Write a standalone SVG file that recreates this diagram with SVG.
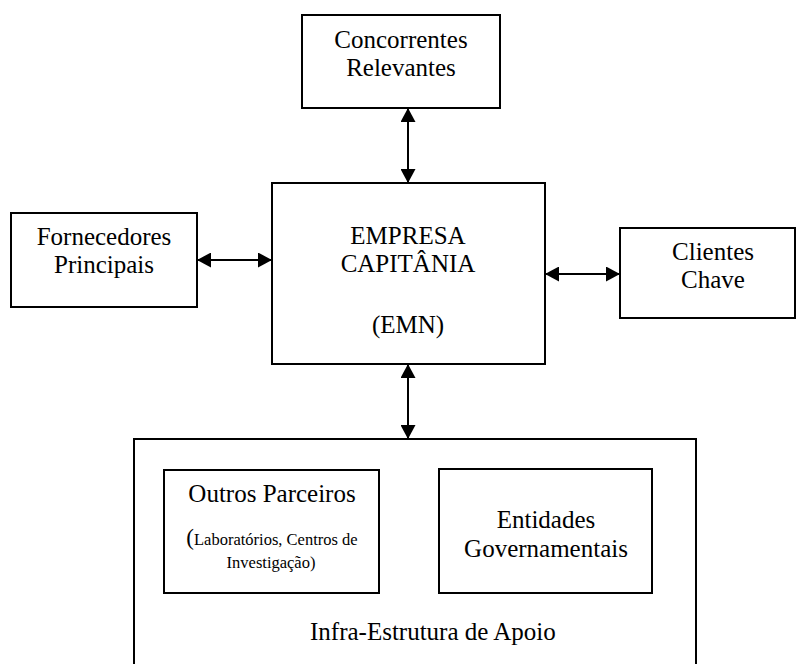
<svg xmlns="http://www.w3.org/2000/svg" width="796" height="664" viewBox="0 0 796 664">
  <style>
    .box { fill: #fff; stroke: #000; stroke-width: 2; }
    .link { stroke: #000; stroke-width: 2; fill: none; marker-start: url(#head); marker-end: url(#head); }
  </style>
  <defs>
    <marker id="head" viewBox="0 0 14 15" refX="14" refY="7.5" markerWidth="14" markerHeight="15" markerUnits="userSpaceOnUse" orient="auto-start-reverse">
      <path d="M0,0 L14,7.5 L0,15 Z" fill="#000"/>
    </marker>
  </defs>
  <rect width="796" height="664" fill="#fff"/>

  <g font-family="Liberation Serif, Times New Roman, serif" font-size="25" fill="#000" text-anchor="middle">
    <g id="concorrentes">
      <rect class="box" x="302" y="15" width="198" height="93"/>
      <text x="401" y="48">Concorrentes</text>
      <text x="401" y="76">Relevantes</text>
    </g>

    <g id="fornecedores">
      <rect class="box" x="11" y="213" width="186" height="94"/>
      <text x="104" y="245">Fornecedores</text>
      <text x="104" y="273">Principais</text>
    </g>

    <g id="empresa">
      <rect class="box" x="272" y="183" width="273" height="181"/>
      <text x="408" y="244">EMPRESA</text>
      <text x="408" y="272">CAPITÂNIA</text>
      <text x="408" y="333">(EMN)</text>
    </g>

    <g id="clientes">
      <rect class="box" x="620" y="228" width="175" height="90"/>
      <text x="713" y="260">Clientes</text>
      <text x="713" y="288">Chave</text>
    </g>

    <g id="infraestrutura">
      <path d="M134,666 V439 H696 V666" class="box" fill="none"/>
      <text x="310" y="640" text-anchor="start">Infra-Estrutura de Apoio</text>
    </g>

    <g id="parceiros">
      <rect class="box" x="164" y="470" width="215" height="123"/>
      <text x="272" y="502">Outros Parceiros</text>
      <text x="272" y="545" font-size="16.5"><tspan font-size="23">(</tspan>Laboratórios, Centros de</text>
      <text x="271" y="568" font-size="16.5">Investigação)</text>
    </g>

    <g id="governamentais">
      <rect class="box" x="439" y="469" width="213" height="124"/>
      <text x="546" y="528">Entidades</text>
      <text x="546" y="557">Governamentais</text>
    </g>
  </g>

  <g id="connectors">
    <line class="link" x1="408" y1="108" x2="408" y2="183"/>
    <line class="link" x1="197" y1="260" x2="272" y2="260"/>
    <line class="link" x1="545" y1="274" x2="620" y2="274"/>
    <line class="link" x1="408" y1="364" x2="408" y2="439"/>
  </g>
</svg>
